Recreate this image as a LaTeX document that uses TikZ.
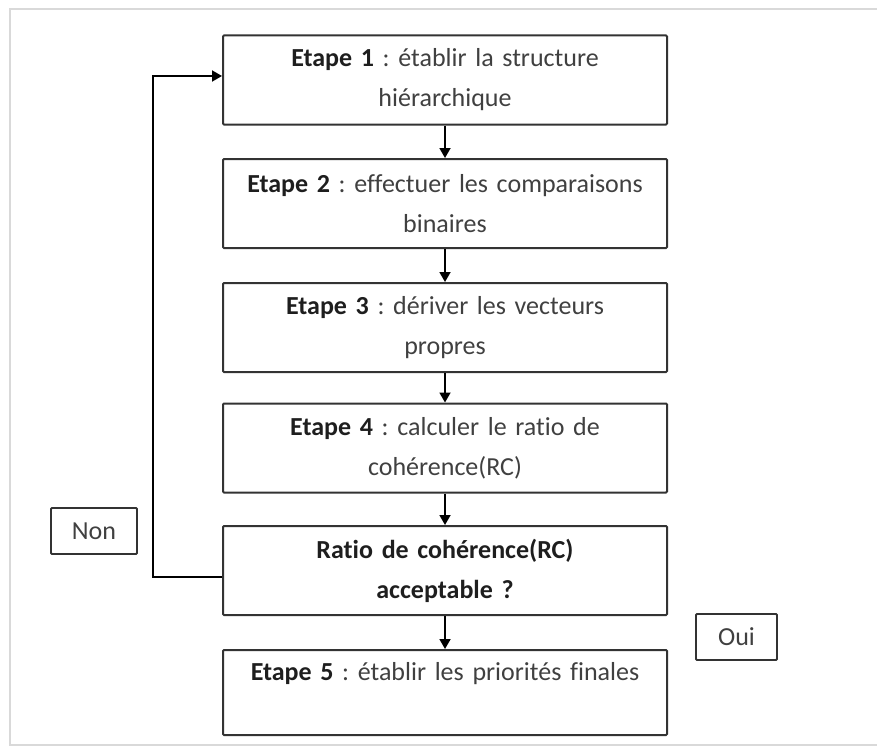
\documentclass[tikz,border=0pt]{standalone}
\usepackage{fontspec}
\setmainfont{Carlito}[RawFeature=-liga]
\usetikzlibrary{arrows.meta}
\definecolor{txt}{HTML}{404040}
\definecolor{bld}{HTML}{1E1E1E}
\definecolor{edge}{HTML}{333333}
\newcommand{\bt}[1]{\textcolor{bld}{\textbf{#1}}}
\frenchspacing
\setlength{\parindent}{0pt}
\begin{document}
\begin{tikzpicture}[x=1pt,y=-1pt,
  box/.style={draw=edge, line width=2pt, rounded corners=1pt, minimum width=444pt, minimum height=89pt, text width=440pt, align=center, inner sep=0pt, font=\fontsize{26}{40}\selectfont, text=txt},
  tag/.style={draw=edge, line width=1.8pt, rounded corners=1pt, minimum height=46pt, inner sep=0pt, font=\fontsize{26}{30}\selectfont, text=txt},
  arr/.style={draw=black, line width=1.8pt, -{Triangle[length=10pt,width=11pt]}}]
\useasboundingbox (0,0) rectangle (877,749);
\draw[black!15, line width=2pt] (885,9) -- (10,9) -- (10,745) -- (885,745);
\node[box] (e1) at (445,80) {\bt{Etape 1} : établir la structure\\hiérarchique};
\node[box] (e2) at (445,203.5) {\bt{Etape 2} : effectuer les comparaisons\\binaires};
\node[box] (e3) at (445,327.5) {\bt{Etape 3} : dériver les vecteurs\\propres};
\node[box] (e4) at (445,448) {\bt{Etape 4} : calculer le ratio de\\cohérence(RC)};
\node[box] (rc) at (445,570.5) {\bt{Ratio de cohérence(RC)}\\\bt{acceptable ?}};
\node[box, minimum height=85pt] (e5) at (445,692.5) {\bt{Etape 5} : établir les priorités finales\\[-10pt]\strut};
\node[tag, minimum width=86pt] (non) at (94,531) {Non};
\node[tag, minimum width=81pt] (oui) at (736.5,637) {Oui};
\draw[arr] (e1.south) -- (e2.north);
\draw[arr] (e2.south) -- (e3.north);
\draw[arr] (e3.south) -- (e4.north);
\draw[arr] (e4.south) -- (rc.north);
\draw[arr] (rc.south) -- (e5.north);
\coordinate (bk) at (153,577);
\draw[arr] ([yshift=-6.5pt]rc.west) -- (bk) |- ([yshift=4pt]e1.west);
\end{tikzpicture}
\end{document}
